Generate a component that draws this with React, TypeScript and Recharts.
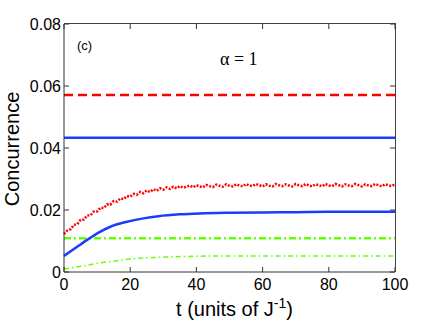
import React from "react";
import { LineChart, Line, XAxis, YAxis } from "recharts";

// flat reference levels
const flatT = [0, 100];
const redDashedVals = [0.0571, 0.0571];
const blueSolidVals = [0.0433, 0.0433];
const greenThickVals = [0.0109, 0.0109];

// blue rising curve
const blueT = [0, 3, 5, 7.3, 8.8, 11, 14, 19, 24, 28.5, 35, 41, 50, 60, 70, 80, 100];
const blueVals = [
  0.0052, 0.0074, 0.0089, 0.0106, 0.0116, 0.013, 0.0146, 0.0162, 0.0173,
  0.018, 0.0186, 0.0189, 0.0191, 0.0192, 0.0193, 0.0194, 0.0194,
];

// thin green rising curve
const greenThinT = [0, 6, 10, 15, 20, 30, 41, 50, 60, 80, 100];
const greenThinVals = [
  0.001, 0.002, 0.0028, 0.0035, 0.0042, 0.0048, 0.0051, 0.0052, 0.0052,
  0.0052, 0.0052,
];

// red dotted wiggly curve, one value per unit of t (0..100)
const redVals = [
  0.0122, 0.0134, 0.0138, 0.0152, 0.0154, 0.0168, 0.0169, 0.0182, 0.0183,
  0.0195, 0.0195, 0.0207, 0.0206, 0.0218, 0.0217, 0.0229, 0.0227, 0.0237,
  0.0235, 0.0245, 0.0243, 0.0252, 0.0249, 0.0258, 0.0254, 0.0263, 0.0258,
  0.0267, 0.0262, 0.027, 0.0265, 0.0273, 0.0268, 0.0275, 0.027, 0.0277,
  0.0272, 0.0275, 0.0279, 0.0273, 0.028, 0.0276, 0.0273, 0.0281, 0.0277,
  0.0274, 0.0282, 0.0278, 0.0275, 0.0283, 0.0278, 0.0276, 0.0283, 0.0279,
  0.0276, 0.0284, 0.0279, 0.0277, 0.0284, 0.028, 0.0276, 0.0283, 0.0278,
  0.0276, 0.0284, 0.028, 0.0277, 0.0283, 0.0279, 0.0276, 0.0284, 0.028,
  0.0277, 0.0284, 0.0279, 0.0276, 0.0283, 0.028, 0.0276, 0.0284, 0.0279,
  0.0277, 0.0284, 0.028, 0.0276, 0.0283, 0.0279, 0.0277, 0.0284, 0.028,
  0.0276, 0.0283, 0.0279, 0.0277, 0.0284, 0.028, 0.0276, 0.0283, 0.028,
  0.0277, 0.0283,
];

const xTicks = [0, 20, 40, 60, 80, 100];
const yTicks = [0, 0.02, 0.04, 0.06, 0.08];
const xMax = 100;
const yMax = 0.08;

const toRows = (ts: number[], vs: number[]) => ts.map((t, i) => ({ t, v: vs[i] }));

const redRows = redVals.map((v, i) => ({ t: i, v }));

const W = 436;
const H = 324;
const M = { top: 24, right: 41, bottom: 0, left: 0 };
const Y_AXIS_W = 64;
const X_AXIS_H = 52;
// plot box, used only for the top/right frame edges
const box = {
  l: M.left + Y_AXIS_W,
  t: M.top,
  r: W - M.right,
  b: H - M.bottom - X_AXIS_H,
};

const FONT = "'Liberation Sans', Arial, Helvetica, sans-serif";
const axisColor = "#333";
const tickStyle = { fontSize: 16, fill: "#000", fontFamily: FONT };

const YTitle = (props: any) => {
  const { viewBox } = props;
  const x = viewBox.x + 19;
  const y = viewBox.y + viewBox.height / 2 + 1;
  return (
    <text
      x={x}
      y={y}
      transform={`rotate(-90, ${x}, ${y})`}
      textAnchor="middle"
      fontSize={20}
      fontFamily={FONT}
      fill="#000"
    >
      Concurrence
    </text>
  );
};

const XTitle = (props: any) => {
  const { viewBox } = props;
  return (
    <text
      x={viewBox.x + viewBox.width / 2 + 5}
      y={viewBox.y + 44}
      textAnchor="middle"
      fontSize={20}
      fontFamily={FONT}
      fill="#000"
    >
      t (units of J
      <tspan dy={-8} fontSize={14}>
        -1
      </tspan>
      <tspan dy={8}>)</tspan>
    </text>
  );
};

export default function App() {
  const sx = (t: number) => box.l + (t / xMax) * (box.r - box.l);
  const sy = (v: number) => box.b - (v / yMax) * (box.b - box.t);
  return (
    <div
      style={{
        position: "absolute",
        left: 0,
        top: 0,
        width: W,
        height: H,
        background: "#fff",
      }}
    >
      <LineChart width={W} height={H} data={redRows} margin={M}>
        <XAxis
          type="number"
          dataKey="t"
          domain={[0, xMax]}
          ticks={xTicks}
          height={X_AXIS_H}
          allowDuplicatedCategory={false}
          tickSize={-5}
          tickMargin={12}
          tick={tickStyle}
          stroke={axisColor}
          label={<XTitle />}
        />
        <YAxis
          type="number"
          domain={[0, yMax]}
          ticks={yTicks}
          width={Y_AXIS_W}
          tickSize={-5}
          tickMargin={8}
          tick={tickStyle}
          tickFormatter={(v: number) => (v === 0 ? "0" : v.toFixed(2))}
          stroke={axisColor}
          label={<YTitle />}
        />
        <Line
          data={toRows(flatT, redDashedVals)}
          dataKey="v"
          stroke="#ff0000"
          strokeWidth={2.5}
          strokeDasharray="9 5"
          dot={false}
          isAnimationActive={false}
        />
        <Line
          data={toRows(flatT, blueSolidVals)}
          dataKey="v"
          stroke="#1a3cff"
          strokeWidth={2.5}
          dot={false}
          isAnimationActive={false}
        />
        <Line
          data={toRows(flatT, greenThickVals)}
          dataKey="v"
          stroke="#66ff00"
          strokeWidth={2.5}
          strokeDasharray="7 3 2 3"
          dot={false}
          isAnimationActive={false}
        />
        <Line
          data={toRows(greenThinT, greenThinVals)}
          dataKey="v"
          type="monotone"
          stroke="#66ff00"
          strokeWidth={1.5}
          strokeDasharray="5 3 1.5 3"
          dot={false}
          isAnimationActive={false}
        />
        <Line
          data={toRows(blueT, blueVals)}
          dataKey="v"
          type="monotone"
          stroke="#1a3cff"
          strokeWidth={2.5}
          dot={false}
          isAnimationActive={false}
        />
        <Line
          dataKey="v"
          stroke="#ff0000"
          strokeWidth={2.5}
          strokeDasharray="2 1.5"
          dot={false}
          isAnimationActive={false}
        />
      </LineChart>
      {/* top and right edges of the box */}
      <div
        style={{
          position: "absolute",
          left: box.l,
          top: box.t - 1,
          width: box.r - box.l,
          height: box.b - box.t,
          borderTop: "1px solid #444",
          borderRight: "1px solid #444",
          pointerEvents: "none",
        }}
      />
      <svg
        width={W}
        height={H}
        style={{ position: "absolute", left: 0, top: 0, pointerEvents: "none" }}
      >
        {xTicks.map((t) => (
          <line
            key={`tt${t}`}
            x1={sx(t)}
            x2={sx(t)}
            y1={box.t}
            y2={box.t + 5}
            stroke={axisColor}
          />
        ))}
        {yTicks.map((v) => (
          <line
            key={`rt${v}`}
            x1={box.r}
            x2={box.r - 5}
            y1={sy(v)}
            y2={sy(v)}
            stroke={axisColor}
          />
        ))}
        <text x={77} y={50} fontSize={13} fontFamily={FONT} fill="#000">
          (c)
        </text>
        <text
          x={220}
          y={65}
          fontSize={18}
          fontFamily="'Liberation Serif', 'Times New Roman', serif"
          fill="#000"
        >
          α = 1
        </text>
      </svg>
    </div>
  );
}
